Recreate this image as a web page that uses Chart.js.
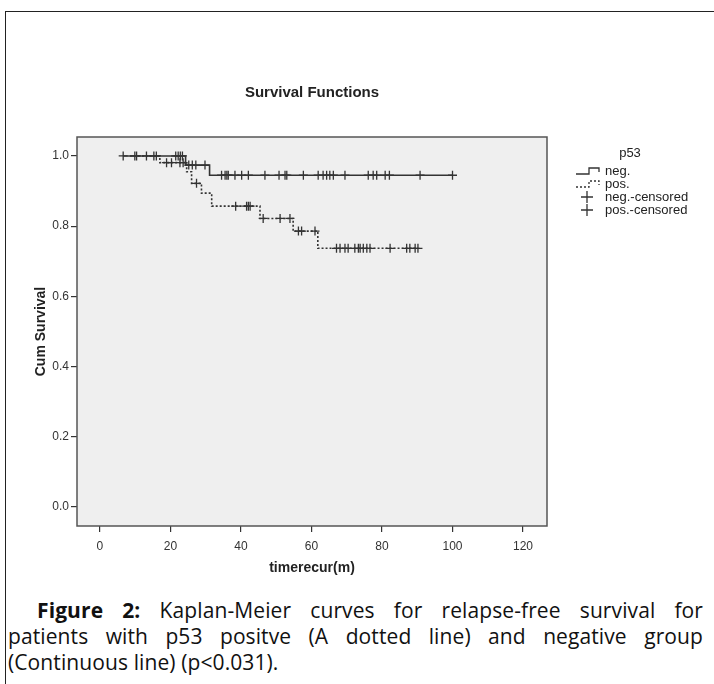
<!DOCTYPE html>
<html>
<head>
<meta charset="utf-8">
<script src="https://cdn.jsdelivr.net/npm/chart.js@4"></script>
<style>
  html, body { margin: 0; padding: 0; background: #fff; }
  #wrap { position: relative; width: 714px; height: 684px; overflow: hidden; }
  #frame { position: absolute; left: 5px; top: 11px; width: 720px; height: 690px; border-left: 1.5px solid #222; border-top: 1.5px solid #222; box-sizing: border-box; }
  canvas { position: absolute; left: 0; top: 0; }
  .cap { position: absolute; left: 8px; width: 695px; font-family: "Open Sans", sans-serif; font-size: 21px; letter-spacing: 0.1px; line-height: 26px; color: #111; white-space: nowrap; }
  .just { text-align: justify; text-align-last: justify; white-space: normal; }
</style>
</head>
<body>
<div id="wrap">
  <div id="frame"></div>
  <canvas id="c" width="714" height="590"></canvas>
  <div class="cap just" style="top:597px; padding-left:29px; width:666px;"><b>Figure 2:</b> Kaplan-Meier curves for relapse-free survival for</div>
  <div class="cap just" style="top:623px;">patients with p53 positve (A dotted line) and negative group</div>
  <div class="cap" style="top:649px;">(Continuous line) (p&lt;0.031).</div>
</div>
<script>
// ---- data (months, cumulative survival) ----
const xTickValues = [0, 20, 40, 60, 80, 100, 120];
const yTickValues = [0.0, 0.2, 0.4, 0.6, 0.8, 1.0];

// negative group step curve (time of change, survival after it)
const negTimes = [6.6, 24.3, 31.1, 100];
const negSurv  = [1.0, 0.974, 0.945, 0.945];
// positive group step curve
const posTimes = [8.5, 17.0, 24.6, 26.0, 28.8, 31.7, 45.4, 54.8, 61.8, 90.2];
const posSurv  = [1.0, 0.981, 0.955, 0.922, 0.894, 0.857, 0.822, 0.786, 0.737, 0.737];

// censored observations
const negCensTimes = [6.6, 9.9, 10.4, 13.2, 15.3, 21.5, 22.2, 22.8, 23.4,
                      25.2, 26.2, 27.2, 29.8,
                      34.5, 35.5, 36.0, 36.4, 38.3, 40.2, 42.1, 46.8, 50.8, 52.5, 53.0, 57.7, 61.9, 63.3, 64.3, 65.2, 66.2, 69.5, 76.1, 77.5, 78.5, 80.9, 82.1, 90.8, 100];
const negCensSurv  = [1, 1, 1, 1, 1, 1, 1, 1, 1,
                      0.974, 0.974, 0.974, 0.974,
                      0.945, 0.945, 0.945, 0.945, 0.945, 0.945, 0.945, 0.945, 0.945, 0.945, 0.945, 0.945, 0.945, 0.945, 0.945, 0.945, 0.945, 0.945, 0.945, 0.945, 0.945, 0.945, 0.945, 0.945, 0.945];
const posCensTimes = [16.0, 18.9, 20.3, 22.7, 23.6, 27.4, 38.5, 41.6, 42.1, 42.6, 46.3, 51.1, 53.9, 56.3, 57.2, 61.0,
                      67.1, 68.1, 69.5, 70.4, 72.3, 73.3, 73.8, 74.7, 75.7, 76.6, 82.3, 87.0, 87.9, 89.4, 90.2];
const posCensSurv  = [1, 0.981, 0.981, 0.981, 0.981, 0.922, 0.857, 0.857, 0.857, 0.857, 0.822, 0.822, 0.822, 0.786, 0.786, 0.786,
                      0.737, 0.737, 0.737, 0.737, 0.737, 0.737, 0.737, 0.737, 0.737, 0.737, 0.737, 0.737, 0.737, 0.737, 0.737];

const legendTitle = 'p53';
const legendLabels = ['neg.', 'pos.', 'neg.-censored', 'pos.-censored'];

const toXY = (xs, ys) => xs.map((x, i) => ({ x: x, y: ys[i] }));
const ink = '#333';
const AREA = { left: 77, right: 547, top: 137, bottom: 526 };
const FONT = '"Liberation Sans", Arial, sans-serif';

const decor = {
  id: 'decor',
  beforeDraw(chart) {
    const { ctx, chartArea: a } = chart;
    ctx.save();
    ctx.fillStyle = '#efefef';
    ctx.fillRect(a.left, a.top, a.right - a.left, a.bottom - a.top);
    ctx.restore();
  },
  afterDraw(chart) {
    const { ctx, chartArea: a } = chart;
    ctx.save();
    ctx.strokeStyle = '#555';
    ctx.lineWidth = 1.5;
    ctx.strokeRect(a.left, a.top, a.right - a.left, a.bottom - a.top);
    // title
    ctx.fillStyle = '#222';
    ctx.font = 'bold 15px ' + FONT;
    ctx.textAlign = 'center';
    ctx.textBaseline = 'middle';
    ctx.fillText('Survival Functions', (a.left + a.right) / 2, 93);
    // legend
    const lx = 574, tx = 605;
    ctx.font = '13px ' + FONT;
    ctx.fillText(legendTitle, 630, 153);
    ctx.textAlign = 'left';
    const rows = [171, 184, 197, 210];
    ctx.strokeStyle = ink;
    ctx.lineWidth = 1.3;
    const stepIcon = (r) => {
      ctx.beginPath();
      ctx.moveTo(lx + 2, r + 3); ctx.lineTo(lx + 15, r + 3); ctx.lineTo(lx + 15, r - 3);
      ctx.lineTo(lx + 25, r - 3); ctx.lineTo(lx + 25, r + 1);
      ctx.stroke();
    };
    stepIcon(rows[0]);
    ctx.setLineDash([2, 2]);
    stepIcon(rows[1]);
    ctx.setLineDash([]);
    [rows[2], rows[3]].forEach(r => {
      ctx.beginPath();
      ctx.moveTo(lx + 7, r); ctx.lineTo(lx + 19, r);
      ctx.moveTo(lx + 13, r - 6); ctx.lineTo(lx + 13, r + 6);
      ctx.stroke();
    });
    ctx.fillStyle = '#222';
    legendLabels.forEach((t, i) => ctx.fillText(t, tx, rows[i]));
    ctx.restore();
  }
};

new Chart(document.getElementById('c'), {
  type: 'line',
  data: {
    datasets: [
      { label: legendLabels[0], data: toXY(negTimes, negSurv), stepped: 'before', borderColor: ink, borderWidth: 1.6, pointRadius: 0, fill: false },
      { label: legendLabels[1], data: toXY(posTimes, posSurv), stepped: 'before', borderColor: ink, borderWidth: 1.6, borderDash: [2, 2], pointRadius: 0, fill: false },
      { label: legendLabels[2], type: 'scatter', data: toXY(negCensTimes, negCensSurv), showLine: false, pointStyle: 'cross', pointRadius: 4.5, borderColor: ink, borderWidth: 1.3 },
      { label: legendLabels[3], type: 'scatter', data: toXY(posCensTimes, posCensSurv), showLine: false, pointStyle: 'cross', pointRadius: 4.5, borderColor: ink, borderWidth: 1.3 }
    ]
  },
  options: {
    responsive: false,
    animation: false,
    devicePixelRatio: 1,
    layout: { padding: { left: 0, top: AREA.top, right: 714 - AREA.right, bottom: 0 } },
    plugins: { legend: { display: false }, tooltip: { enabled: false }, title: { display: false } },
    scales: {
      x: {
        type: 'linear', min: -6.5, max: 126.8,
        afterBuildTicks: s => { s.ticks = xTickValues.map(v => ({ value: v })); },
        afterFit: s => { s.height = 590 - AREA.bottom; },
        border: { display: false },
        grid: { drawOnChartArea: false, drawTicks: true, tickLength: 6, color: ink, lineWidth: 1.2 },
        ticks: { color: '#333', font: { family: FONT, size: 12 }, padding: 7, maxRotation: 0 },
        title: { display: true, text: 'timerecur(m)', color: '#222', font: { family: FONT, size: 14, weight: 'bold' }, padding: { top: 0, bottom: 13 } }
      },
      y: {
        type: 'linear', min: -0.054, max: 1.054,
        afterBuildTicks: s => { s.ticks = yTickValues.map(v => ({ value: v })); },
        afterFit: s => { s.width = AREA.left; },
        border: { display: false },
        grid: { drawOnChartArea: false, drawTicks: true, tickLength: 6, color: ink, lineWidth: 1.2 },
        ticks: { color: '#333', font: { family: FONT, size: 12 }, padding: 2, callback: v => Number(v).toFixed(1) },
        title: { display: true, text: 'Cum Survival', color: '#222', font: { family: FONT, size: 14, weight: 'bold' }, padding: { top: 33, bottom: 0 } }
      }
    }
  },
  plugins: [decor]
});
</script>
</body>
</html>
